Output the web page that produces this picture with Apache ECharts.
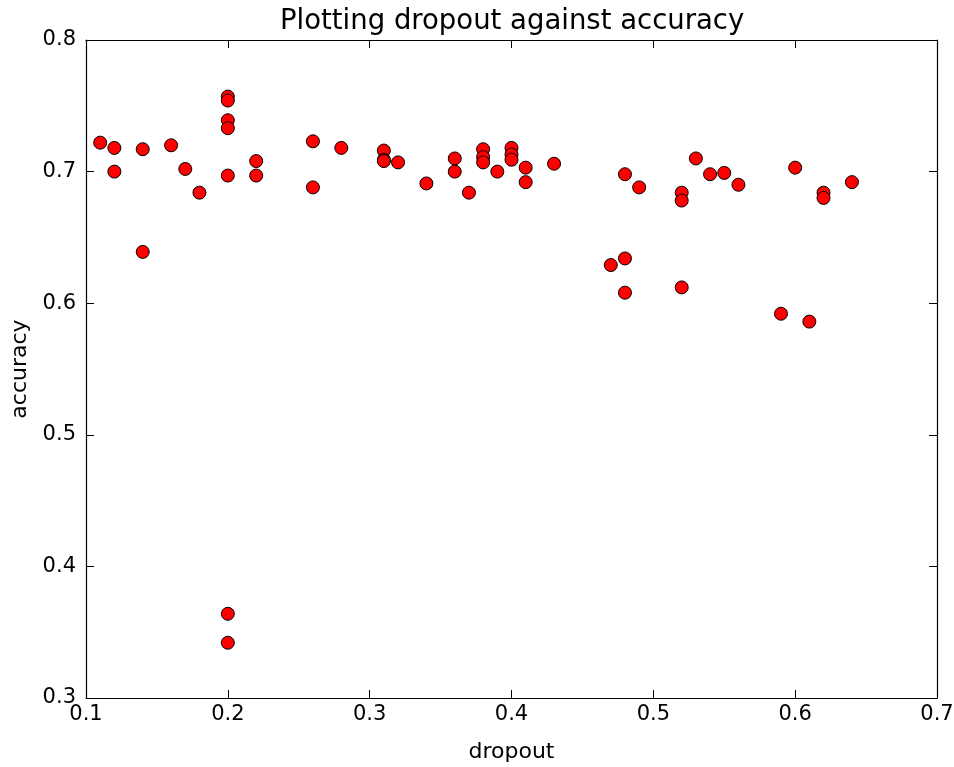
<!DOCTYPE html>
<html>
<head>
<meta charset="utf-8">
<script src="https://cdn.jsdelivr.net/npm/echarts@6/dist/echarts.min.js"></script>
<style>
  html, body { margin: 0; padding: 0; background: #fff; }
  #chart { width: 954px; height: 767px; }
</style>
</head>
<body>
<div id="chart"></div>
<script>
// Dropout rate of each run and the accuracy it reached
const dropout = [
  0.11, 0.12, 0.12, 0.14, 0.14, 0.16, 0.17, 0.18,
  0.20, 0.20, 0.20, 0.20, 0.20, 0.20, 0.20,
  0.22, 0.22, 0.26, 0.26, 0.28,
  0.31, 0.31, 0.31, 0.32, 0.34, 0.36, 0.36, 0.37,
  0.38, 0.38, 0.38, 0.39, 0.40, 0.40, 0.40, 0.41, 0.41, 0.43,
  0.47, 0.48, 0.48, 0.48, 0.49, 0.52, 0.52, 0.52, 0.53, 0.54, 0.55, 0.56,
  0.59, 0.60, 0.61, 0.62, 0.62, 0.64
];
const accuracy = [
  0.722, 0.718, 0.700, 0.717, 0.639, 0.720, 0.702, 0.684,
  0.757, 0.754, 0.739, 0.733, 0.697, 0.364, 0.342,
  0.708, 0.697, 0.723, 0.688, 0.718,
  0.716, 0.709, 0.708, 0.707, 0.691, 0.710, 0.700, 0.684,
  0.717, 0.711, 0.707, 0.700, 0.718, 0.713, 0.709, 0.703, 0.692, 0.706,
  0.629, 0.698, 0.634, 0.608, 0.688, 0.684, 0.678, 0.612, 0.710, 0.698, 0.699, 0.690,
  0.592, 0.703, 0.586, 0.684, 0.680, 0.692
];
const xTicks = [0.1, 0.2, 0.3, 0.4, 0.5, 0.6, 0.7];
const yTicks = [0.3, 0.4, 0.5, 0.6, 0.7, 0.8];

const points = dropout.map((d, i) => [d, accuracy[i]]);
const font = '"DejaVu Sans", sans-serif';
const fmt = v => String(+v.toFixed(1));

const axisLine = { show: true, onZero: false, lineStyle: { color: '#000', width: 1.2 } };
const tick = { show: true, inside: true, length: 8, lineStyle: { color: '#000', width: 1 } };

const chart = echarts.init(document.getElementById('chart'));
chart.setOption({
  animation: false,
  backgroundColor: '#fff',
  title: {
    // centred over the plot area rather than the whole canvas
    text: 'Plotting dropout against accuracy',
    left: 275, top: 3,
    textStyle: { fontFamily: font, fontSize: 27.5, fontWeight: 'normal', color: '#000' }
  },
  grid: { left: 86, right: 17, top: 40, bottom: 69, containLabel: false, outerBoundsMode: 'none' },
  xAxis: [
    {
      type: 'value', min: xTicks[0], max: xTicks[xTicks.length - 1], interval: 0.1,
      name: 'dropout', nameLocation: 'middle', nameGap: 43,
      nameTextStyle: { fontFamily: font, fontSize: 22, color: '#000' },
      axisLine, axisTick: tick, splitLine: { show: false },
      axisLabel: { fontFamily: font, fontSize: 21, color: '#000', margin: 6, formatter: fmt }
    },
    {
      type: 'value', position: 'top', min: xTicks[0], max: xTicks[xTicks.length - 1], interval: 0.1,
      axisLine, axisTick: tick, splitLine: { show: false }, axisLabel: { show: false }
    }
  ],
  yAxis: [
    {
      type: 'value', min: yTicks[0], max: yTicks[yTicks.length - 1], interval: 0.1,
      name: 'accuracy', nameLocation: 'middle', nameGap: 53, nameRotate: 90,
      nameTextStyle: { fontFamily: font, fontSize: 22, color: '#000' },
      axisLine, axisTick: tick, splitLine: { show: false },
      axisLabel: { fontFamily: font, fontSize: 21, color: '#000', margin: 10, formatter: fmt }
    },
    {
      type: 'value', position: 'right', min: yTicks[0], max: yTicks[yTicks.length - 1], interval: 0.1,
      axisLine, axisTick: tick, splitLine: { show: false }, axisLabel: { show: false }
    }
  ],
  series: [{
    type: 'scatter',
    data: points,
    symbol: 'circle',
    symbolSize: 13,
    itemStyle: { color: '#ff0000', borderColor: '#000', borderWidth: 1, opacity: 1 },
    emphasis: { disabled: true }
  }]
});
</script>
</body>
</html>
